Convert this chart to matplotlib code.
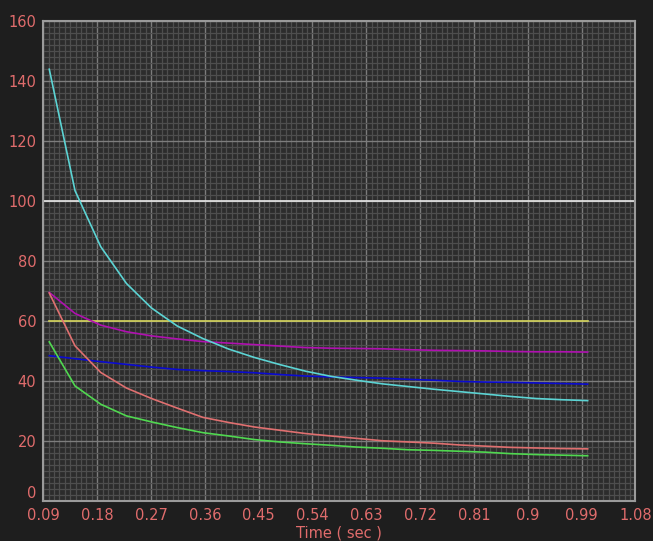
#!/usr/bin/env python3
from matplotlib import pyplot as plt
from matplotlib.ticker import MultipleLocator, FixedLocator
import numpy as np

time = [0.100, 0.143, 0.186, 0.229, 0.271, 0.314, 0.357, 0.400, 0.443, 0.486, 0.529,
        0.571, 0.614, 0.657, 0.700, 0.743, 0.786, 0.829, 0.871, 0.914, 0.957, 1.000]

cyan = [144, 103.5, 84.8, 72.5, 64.3, 58.3, 54.1, 50.6, 47.8, 45.4, 43.2,
        41.5, 40.2, 39.0, 38.1, 37.2, 36.4, 35.6, 34.8, 34.1, 33.7, 33.4]
magenta = [69.5, 62.5, 58.6, 56.4, 55.0, 54.0, 53.1, 52.6, 52.1, 51.6, 51.1,
           50.9, 50.8, 50.7, 50.4, 50.2, 50.1, 50.0, 49.8, 49.7, 49.7, 49.6]
blue = [48.4, 47.4, 46.4, 45.5, 44.6, 43.8, 43.4, 43.1, 42.7, 42.1, 41.6,
        41.3, 41.1, 40.9, 40.5, 40.2, 39.8, 39.6, 39.5, 39.3, 39.1, 38.9]
salmon = [69.3, 51.7, 42.8, 37.6, 34.1, 30.9, 27.8, 26.1, 24.6, 23.5, 22.4,
          21.6, 20.8, 20.0, 19.6, 19.2, 18.6, 18.2, 17.8, 17.6, 17.4, 17.3]
green = [53.0, 38.3, 32.2, 28.3, 26.3, 24.4, 22.7, 21.6, 20.4, 19.6, 19.0,
         18.5, 17.9, 17.5, 17.0, 16.8, 16.5, 16.2, 15.7, 15.4, 15.2, 15.0]
yellow = [60] * len(time)
white_level = 100

xticks = [0.09, 0.18, 0.27, 0.36, 0.45, 0.54, 0.63, 0.72, 0.81, 0.9, 0.99, 1.08]
xtick_labels = ['0.09', '0.18', '0.27', '0.36', '0.45', '0.54', '0.63',
                '0.72', '0.81', '0.9', '0.99', '1.08']
yticks = [0, 20, 40, 60, 80, 100, 120, 140, 160]

label_color = '#e06c6c'

fig = plt.figure(figsize=(6.53, 5.41), dpi=100, facecolor='#1e1e1e')
ax = fig.add_axes([0.0663, 0.0745, 0.9069, 0.8861])
ax.set_facecolor('#2c2c2c')

ax.set_xlim(0.09, 1.08)
ax.set_ylim(0, 160)

ax.xaxis.set_major_locator(FixedLocator(xticks))
ax.set_xticklabels(xtick_labels)
minor_x = np.arange(0.09, 1.08 + 1e-9, 0.009)
ax.xaxis.set_minor_locator(FixedLocator(minor_x))
ax.set_yticks(yticks)
ax.yaxis.set_minor_locator(MultipleLocator(2))

ax.grid(which='minor', color='#4e4e4e', linewidth=0.9)
ax.grid(which='major', color='#7c7c7c', linewidth=1.0)
ax.set_axisbelow(True)

ax.tick_params(which='both', length=0, colors=label_color, labelsize=10.5)
ax.tick_params(axis='y', pad=5)
ax.tick_params(axis='x', pad=5)
# nudge the "0" label up a little, as in the original
ax.get_yticklabels()[0].set_verticalalignment('bottom')

for sp in ax.spines.values():
    sp.set_color('#9a9a9a')
    sp.set_linewidth(1.5)

ax.axhline(white_level, color='#e8e8e8', linewidth=1.2)
ax.plot(time, yellow, color='#d4d45a', linewidth=1.2)
ax.plot(time, magenta, color='#b010b0', linewidth=1.2)
ax.plot(time, blue, color='#0a0ad0', linewidth=1.2)
ax.plot(time, cyan, color='#5cd4d4', linewidth=1.2)
ax.plot(time, salmon, color='#e07070', linewidth=1.2)
ax.plot(time, green, color='#50d850', linewidth=1.2)

ax.set_xlabel('Time ( sec )', color=label_color, fontsize=10.5, labelpad=2)

fig.savefig('out.png', dpi=100, facecolor=fig.get_facecolor())
